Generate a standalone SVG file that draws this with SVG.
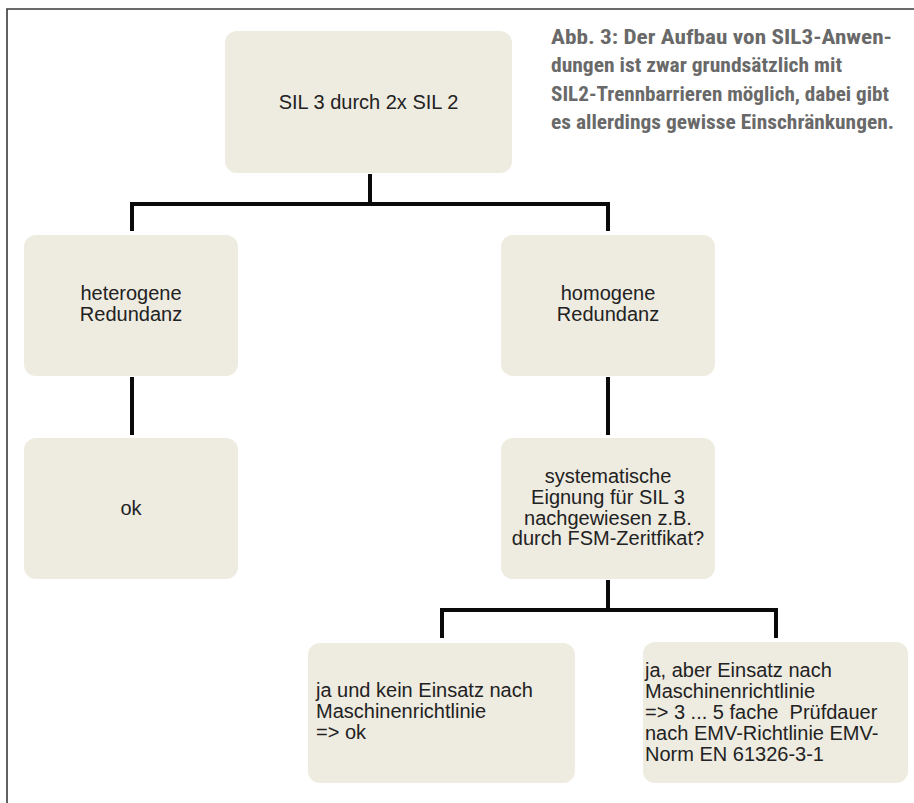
<svg xmlns="http://www.w3.org/2000/svg" width="914" height="803" viewBox="0 0 914 803">
<style>
.box{fill:#eeebe1;}
.t{font-family:"Liberation Sans",Arial,sans-serif;font-size:20px;fill:#222;}
.c{text-anchor:middle;}
.cap{font-family:"Liberation Sans Narrow","Roboto Condensed","DejaVu Sans Condensed","Liberation Sans",sans-serif;font-weight:bold;font-size:21px;fill:#696969;}
.conn{fill:none;stroke:#0a0a0a;stroke-width:4;stroke-linejoin:miter;stroke-linecap:butt;}
</style>
<rect x="0" y="0" width="914" height="803" fill="#ffffff"/>
<path d="M7,803 V9 H914" fill="none" stroke="#3a3a3a" stroke-width="1.6"/>
<g id="caption">
<text class="cap" x="551" y="43.5" textLength="341" lengthAdjust="spacingAndGlyphs">Abb. 3: Der Aufbau von SIL3-Anwen-</text>
<text class="cap" x="551" y="72" textLength="291" lengthAdjust="spacingAndGlyphs">dungen ist zwar grundsätzlich mit</text>
<text class="cap" x="551" y="100.5" textLength="338" lengthAdjust="spacingAndGlyphs">SIL2-Trennbarrieren möglich, dabei gibt</text>
<text class="cap" x="551" y="129" textLength="343" lengthAdjust="spacingAndGlyphs">es allerdings gewisse Einschränkungen.</text>
</g>
<g id="connectors">
<path class="conn" d="M370,174 V204 M132,231 V204 H608 V231"/>
<path class="conn" d="M132,377 V435"/>
<path class="conn" d="M608,377 V435"/>
<path class="conn" d="M608,580 V610 M442,638 V610 H776 V638"/>
</g>
<g id="root">
<rect class="box" x="225" y="31" width="287" height="142" rx="12"/>
<text class="t c" x="368.5" y="109">SIL 3 durch 2x SIL 2</text>
</g>
<g id="heterogen">
<rect class="box" x="24" y="235" width="214" height="141" rx="12"/>
<text class="t c" x="131" y="300">heterogene</text>
<text class="t c" x="131" y="321">Redundanz</text>
</g>
<g id="ok">
<rect class="box" x="24" y="438" width="214" height="141" rx="12"/>
<text class="t c" x="131" y="515">ok</text>
</g>
<g id="homogen">
<rect class="box" x="501" y="235" width="214" height="141" rx="12"/>
<text class="t c" x="608" y="300">homogene</text>
<text class="t c" x="608" y="321">Redundanz</text>
</g>
<g id="eignung">
<rect class="box" x="501" y="438" width="214" height="141" rx="12"/>
<text class="t c" x="608" y="483">systematische</text>
<text class="t c" x="608" y="504">Eignung für SIL 3</text>
<text class="t c" x="608" y="524.5">nachgewiesen z.B.</text>
<text class="t c" x="608" y="545">durch FSM-Zeritfikat?</text>
</g>
<g id="ja-ok">
<rect class="box" x="308" y="643" width="267" height="140" rx="12"/>
<text class="t" x="316" y="697">ja und kein Einsatz nach</text>
<text class="t" x="316" y="718">Maschinenrichtlinie</text>
<text class="t" x="316" y="738.5">=&gt; ok</text>
</g>
<g id="ja-aber">
<rect class="box" x="643" y="642" width="265" height="141" rx="12"/>
<text class="t" x="645" y="677">ja, aber Einsatz nach</text>
<text class="t" x="645" y="698">Maschinenrichtlinie</text>
<text class="t" x="645" y="719" xml:space="preserve">=&gt; 3 ... 5 fache  Prüfdauer</text>
<text class="t" x="645" y="740">nach EMV-Richtlinie EMV-</text>
<text class="t" x="645" y="760.5">Norm EN 61326-3-1</text>
</g>
</svg>
